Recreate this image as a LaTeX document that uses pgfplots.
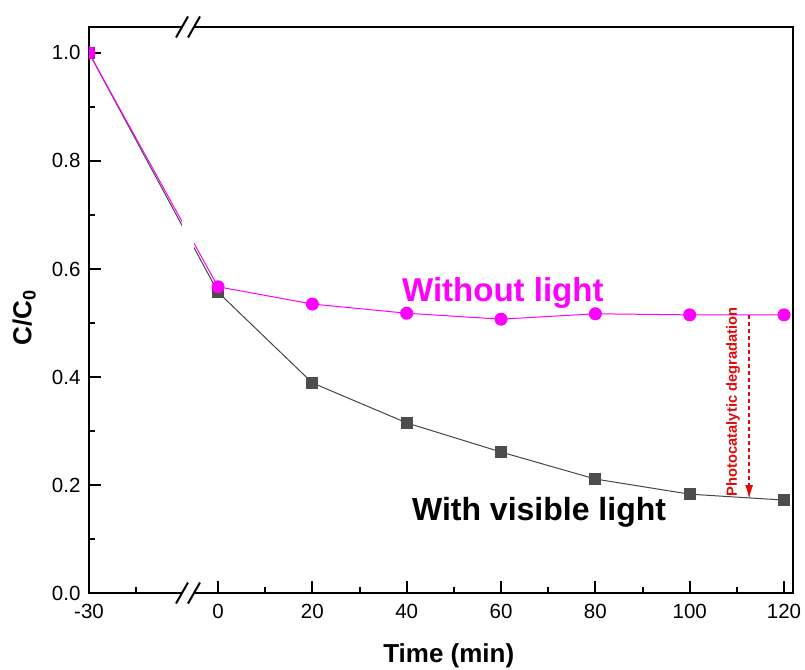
\documentclass[border=0pt]{standalone}
\usepackage{fontspec}
\setmainfont{Liberation Sans}
\usepackage{pgfplots}
\pgfplotsset{compat=1.18}
\usetikzlibrary{arrows.meta}
\definecolor{mag}{RGB}{255,0,255}
\definecolor{sq}{RGB}{77,77,77}
\definecolor{sqline}{RGB}{70,70,70}
\definecolor{ann}{RGB}{225,10,10}

\begin{document}
\begin{tikzpicture}
\useasboundingbox (-89pt,-76pt) rectangle (716pt,593pt);
\begin{axis}[
  at={(0pt,0pt)}, anchor=south west,
  width=704pt, height=566pt, scale only axis,
  x coord trafo/.code={\pgfmathparse{ifthenelse(#1<-5,#1+2.65,#1)}},
  xmin=-30, xmax=121.9, ymin=0, ymax=1.048,
  xtick={-30,0,20,40,60,80,100,120},
  xticklabels={-30,0,20,40,60,80,100,120},
  minor xtick={-20,10,30,50,70,90,110},
  ytick={0,0.2,0.4,0.6,0.8,1.0},
  minor ytick={0.1,0.3,0.5,0.7,0.9},
  tick pos=left, tick align=inside,
  major tick length=12pt, minor tick length=6pt,
  every tick/.append style={black, line width=2pt},
  axis line style={line width=2pt},
  clip marker paths=true,
  /pgf/number format/assume math mode=true,
  ticklabel style={font=\fontsize{20.5}{24}\selectfont},
  yticklabel style={/pgf/number format/fixed, /pgf/number format/fixed zerofill, /pgf/number format/precision=1, xshift=-5pt},
  xticklabel style={yshift=-8pt},
  xlabel={Time (min)},
  ylabel={C/C\textsubscript{0}},
  xlabel style={at={(axis description cs:0.511,-0.111)}, anchor=center, font=\bfseries\fontsize{26}{30}\selectfont},
  ylabel style={at={(axis description cs:-0.092,0.487)}, anchor=center, font=\bfseries\fontsize{26}{30}\selectfont},
]
\addplot[color=sqline, line width=1pt, mark=square*, mark size=5.5pt, mark options={fill=sq, draw=sq}] table {
x y
-30 1.000
0 0.557
20 0.389
40 0.315
60 0.261
80 0.211
100 0.183
120 0.172
};
\addplot[color=mag, line width=1pt, mark=*, mark size=6pt, mark options={fill=mag, draw=mag}] table {
x y
-30 1.000
0 0.567
20 0.535
40 0.518
60 0.507
80 0.517
100 0.515
120 0.515
};
\node[anchor=base west, inner sep=0pt, text=mag, font=\bfseries\fontsize{33}{38}\selectfont] at (axis cs:39.0,0.539) {Without light};
\node[anchor=base west, inner sep=0pt, font=\bfseries\fontsize{32}{38}\selectfont] at (axis cs:41.1,0.135) {With visible light};
\node[rotate=90, anchor=base, inner sep=0pt, text=ann, font=\bfseries\fontsize{14.7}{18}\selectfont] at (axis cs:110.0,0.354) {Photocatalytic degradation};
\draw[ann, line width=1.5pt, dash pattern=on 4.5pt off 2.5pt, -{Latex[length=14pt,width=8pt]}] (axis cs:112.6,0.515) -- (axis cs:112.6,0.174);
\end{axis}
% axis break
\fill[white] (93pt,3pt) rectangle (105pt,563pt);
\foreach \yy in {0,566}{
  \fill[white] (93pt,\yy pt-1.8pt) rectangle (105pt,\yy pt+1.8pt);
  \draw[line width=2pt] (87pt,\yy pt-10.5pt) -- (99pt,\yy pt+10.5pt);
  \draw[line width=2pt] (99pt,\yy pt-10.5pt) -- (111pt,\yy pt+10.5pt);
}
\end{tikzpicture}
\end{document}
